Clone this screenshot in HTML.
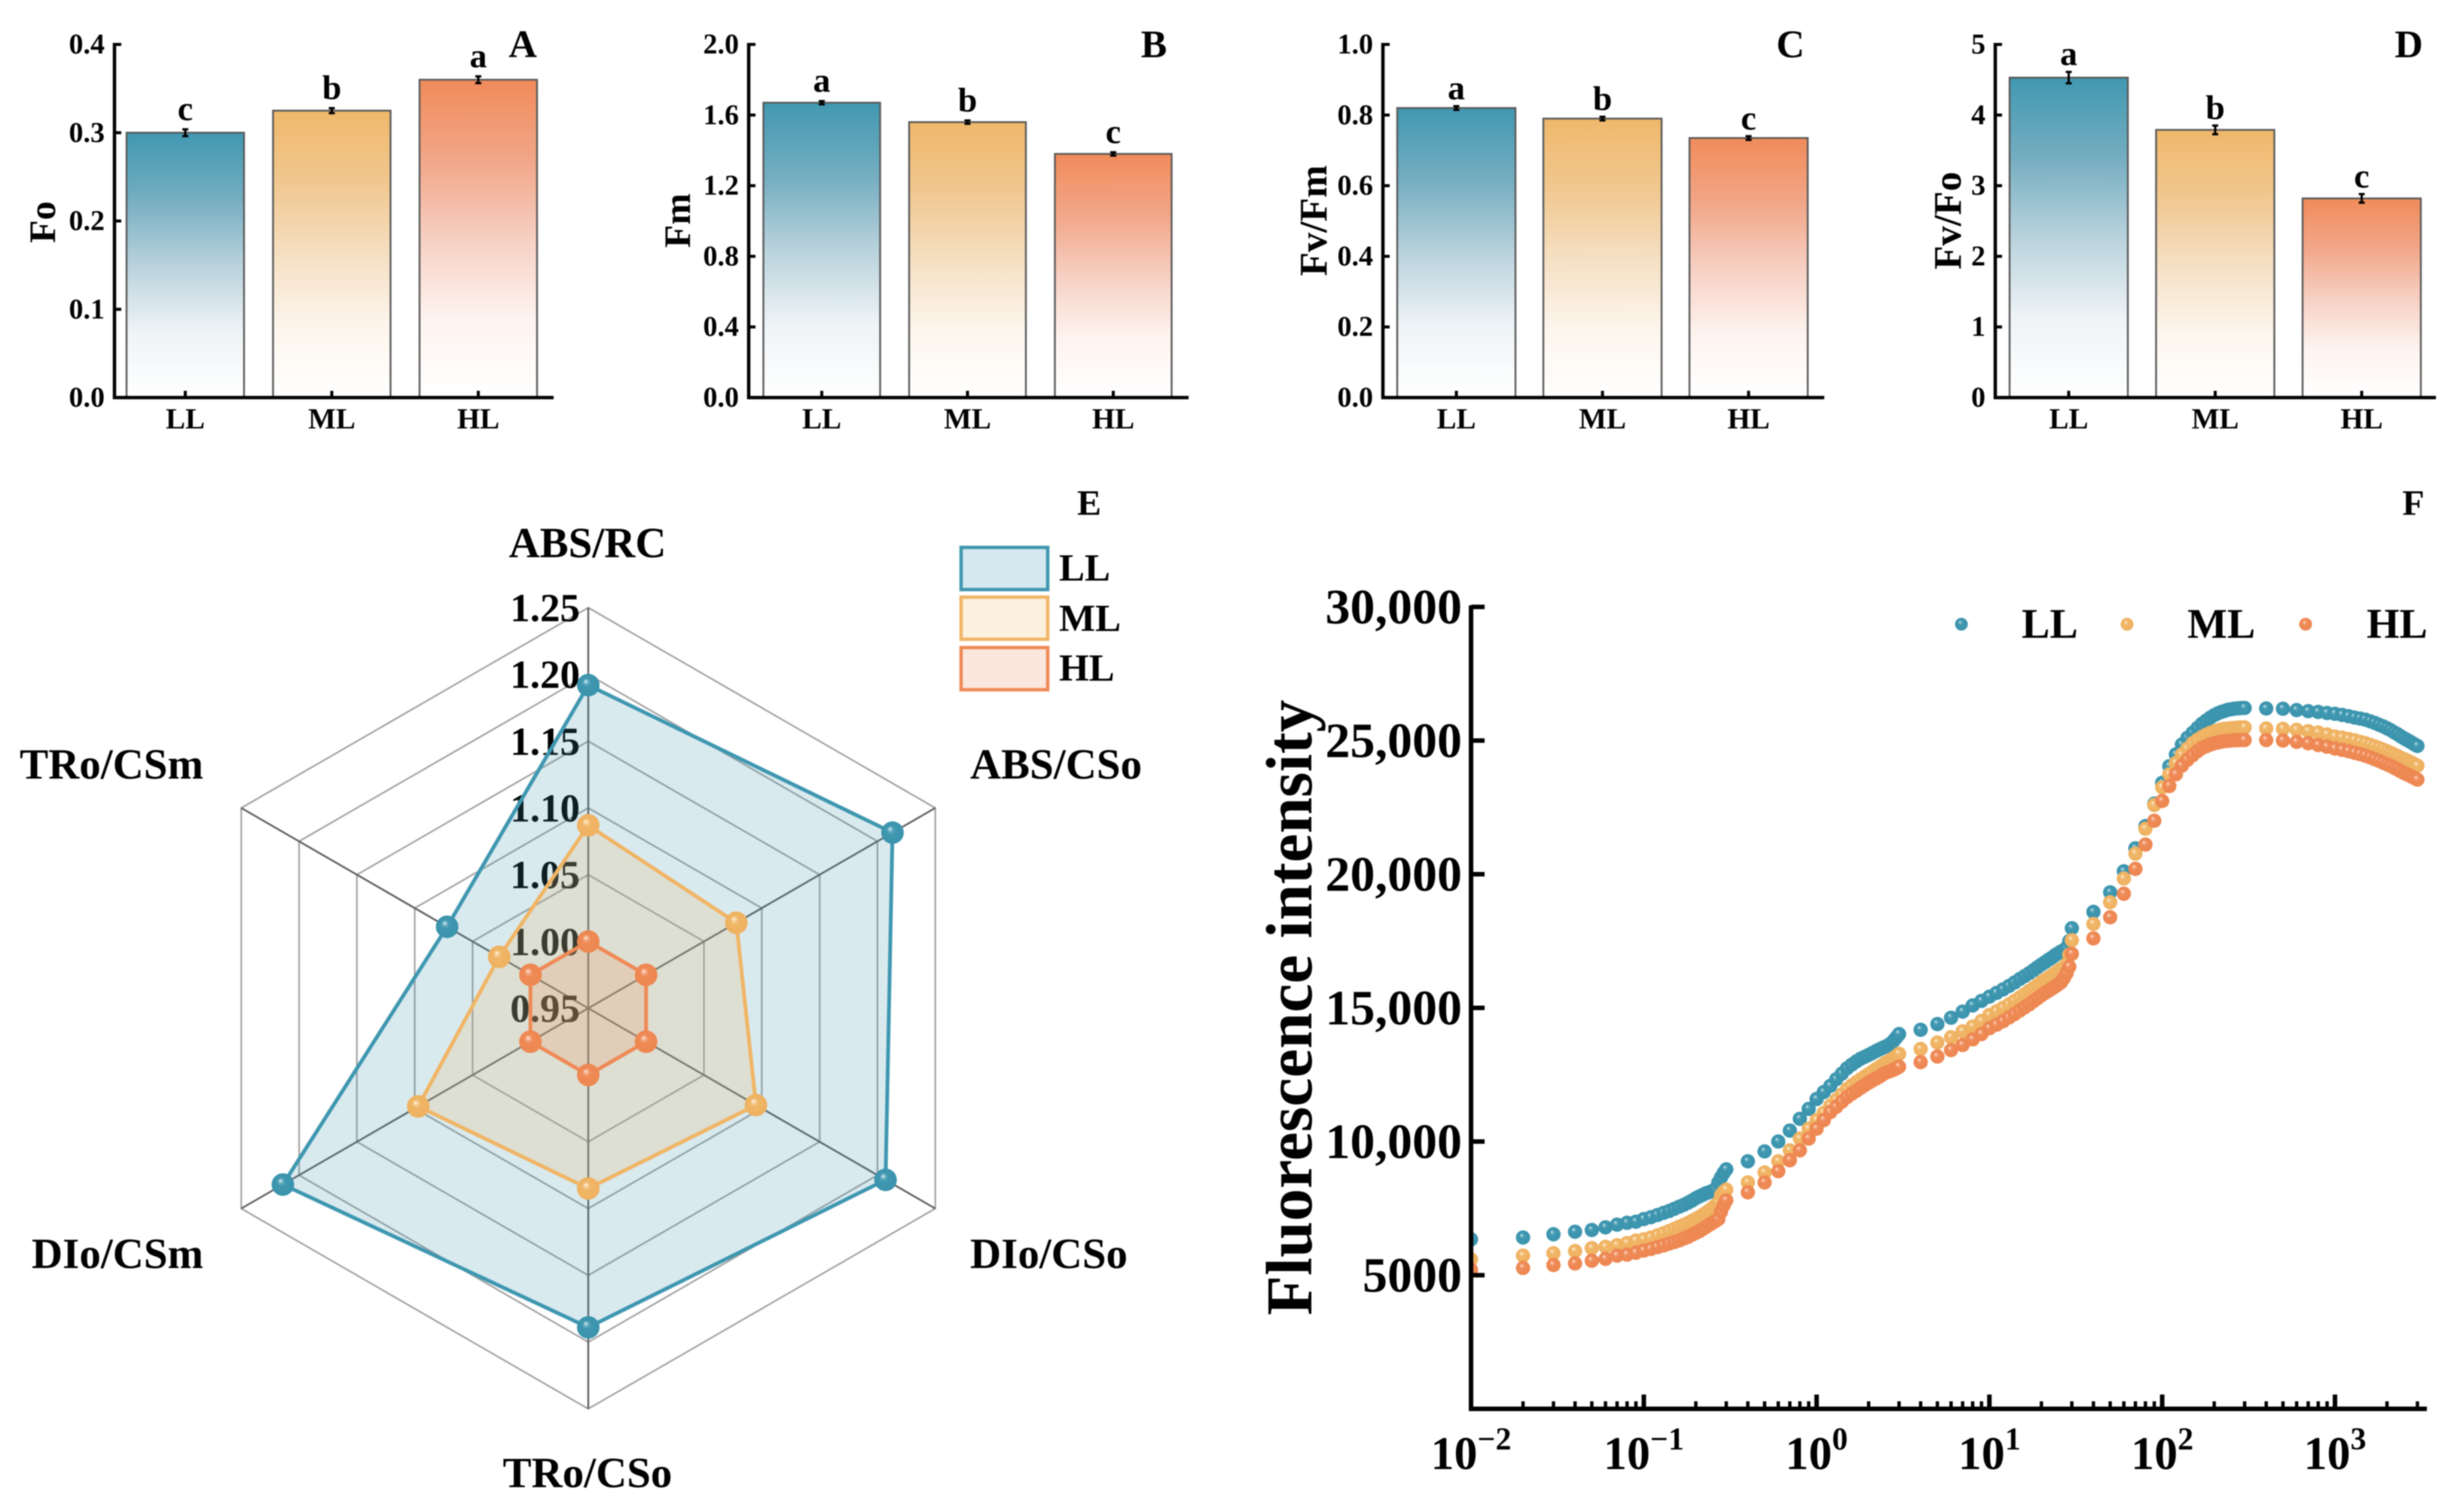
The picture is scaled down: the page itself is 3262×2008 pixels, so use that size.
<!DOCTYPE html>
<html lang="en">
<head>
<meta charset="utf-8">
<title>Chlorophyll fluorescence parameters under LL, ML and HL</title>
<style>
html,body{margin:0;padding:0;background:#fff;width:3262px;height:2008px;overflow:hidden}
svg{display:block;filter:blur(0.8px)}
text{font-family:"Liberation Serif",serif;font-weight:bold;fill:#000}
</style>
</head>
<body>
<svg id="figure" xmlns="http://www.w3.org/2000/svg" width="3262" height="2008" viewBox="0 0 3262 2008">
<rect width="3262" height="2008" fill="#fff"/>
<defs>
<linearGradient id="bar-LL" x1="0" y1="0" x2="0" y2="1"><stop offset="0" stop-color="#4198b1"/><stop offset=".25" stop-color="#74adc0"/><stop offset=".5" stop-color="#b9d2dc"/><stop offset=".75" stop-color="#eef3f6"/><stop offset="1" stop-color="#ffffff"/></linearGradient>
<linearGradient id="bar-ML" x1="0" y1="0" x2="0" y2="1"><stop offset="0" stop-color="#efb86b"/><stop offset=".25" stop-color="#f0c78f"/><stop offset=".5" stop-color="#f5dfc2"/><stop offset=".75" stop-color="#fcf5ec"/><stop offset="1" stop-color="#ffffff"/></linearGradient>
<linearGradient id="bar-HL" x1="0" y1="0" x2="0" y2="1"><stop offset="0" stop-color="#f08b5a"/><stop offset=".25" stop-color="#f1a688"/><stop offset=".5" stop-color="#f6cfc2"/><stop offset=".75" stop-color="#fdf3ef"/><stop offset="1" stop-color="#ffffff"/></linearGradient>
<radialGradient id="ball-LL" cx=".5" cy=".5" r=".5" fx=".38" fy=".32"><stop offset="0" stop-color="#e4f1f4"/><stop offset=".22" stop-color="#5ea9bf"/><stop offset=".4" stop-color="#3f97b0"/><stop offset="1" stop-color="#3a93ac"/></radialGradient>
<radialGradient id="ball-ML" cx=".5" cy=".5" r=".5" fx=".38" fy=".32"><stop offset="0" stop-color="#fdf3e4"/><stop offset=".22" stop-color="#f4c888"/><stop offset=".4" stop-color="#f0b566"/><stop offset="1" stop-color="#eeb160"/></radialGradient>
<radialGradient id="ball-HL" cx=".5" cy=".5" r=".5" fx=".38" fy=".32"><stop offset="0" stop-color="#fdeadf"/><stop offset=".22" stop-color="#f3a27a"/><stop offset=".4" stop-color="#ef8a56"/><stop offset="1" stop-color="#ed8650"/></radialGradient>
<clipPath id="kinetics-clip"><rect x="1953" y="780" width="1300" height="1092"/></clipPath>
</defs>

<g id="panel-a">
<text x="694" y="76" font-size="52" text-anchor="middle">A</text>
<text transform="translate(73 295) rotate(-90)" font-size="50" text-anchor="middle">Fo</text>
</g>
<g id="panel-b">
<text x="1532" y="76" font-size="52" text-anchor="middle">B</text>
<text transform="translate(916 293) rotate(-90)" font-size="50" text-anchor="middle">Fm</text>
</g>
<g id="panel-c">
<text x="2377" y="76" font-size="52" text-anchor="middle">C</text>
<text transform="translate(1761 293) rotate(-90)" font-size="52" text-anchor="middle">Fv/Fm</text>
</g>
<g id="panel-d">
<text x="3198" y="76" font-size="52" text-anchor="middle">D</text>
<text transform="translate(2603 293) rotate(-90)" font-size="52" text-anchor="middle">Fv/Fo</text>
</g>

<g id="panel-e">
<g id="radar-grid"></g>
<g id="radar-series"></g>
<text x="1446" y="684" font-size="48" text-anchor="middle">E</text>
<g>
<rect x="1276" y="727" width="115" height="56" fill="#d6e8ef" stroke="#3f97b0" stroke-width="4.5"/>
<text x="1406" y="771" font-size="51">LL</text>
<rect x="1276" y="793" width="115" height="56" fill="#fcf0de" stroke="#f0b566" stroke-width="4.5"/>
<text x="1406" y="838" font-size="51">ML</text>
<rect x="1276" y="860" width="115" height="56" fill="#fbe7de" stroke="#ef8a56" stroke-width="4.5"/>
<text x="1406" y="904" font-size="51">HL</text>
</g>
</g>

<g id="panel-f">
<text x="3204" y="684" font-size="48" text-anchor="middle">F</text>
<text transform="translate(1741 1338) rotate(-90)" font-size="86.5" text-anchor="middle">Fluorescence intensity</text>
<g id="kinetics-series" clip-path="url(#kinetics-clip)"></g>
<g id="kinetics-axes"></g>
<g>
<circle cx="2604" cy="829" r="8.5" fill="url(#ball-LL)"/>
<text x="2684" y="847" font-size="56">LL</text>
<circle cx="2824" cy="829" r="8.5" fill="url(#ball-ML)"/>
<text x="2904" y="847" font-size="56">ML</text>
<circle cx="3061" cy="829" r="8.5" fill="url(#ball-HL)"/>
<text x="3142" y="847" font-size="56">HL</text>
</g>
</g>
</svg>

<script>
// ---------- Panels A-D data ----------
const barCategories = ['LL', 'ML', 'HL'];
const foValues = [0.300, 0.325, 0.360];
const foErrors = [0.003, 0.002, 0.003];
const foLetters = ['c', 'b', 'a'];
const foTicks = ['0.0', '0.1', '0.2', '0.3', '0.4'];
const fmValues = [1.67, 1.56, 1.38];
const fmErrors = [0.005, 0.005, 0.005];
const fmLetters = ['a', 'b', 'c'];
const fmTicks = ['0.0', '0.4', '0.8', '1.2', '1.6', '2.0'];
const fvfmValues = [0.82, 0.79, 0.735];
const fvfmErrors = [0.003, 0.003, 0.003];
const fvfmLetters = ['a', 'b', 'c'];
const fvfmTicks = ['0.0', '0.2', '0.4', '0.6', '0.8', '1.0'];
const fvfoValues = [4.53, 3.79, 2.82];
const fvfoErrors = [0.07, 0.05, 0.05];
const fvfoLetters = ['a', 'b', 'c'];
const fvfoTicks = ['0', '1', '2', '3', '4', '5'];

// ---------- Panel E data ----------
const radarAxes = ['ABS/RC', 'ABS/CSo', 'DIo/CSo', 'TRo/CSo', 'DIo/CSm', 'TRo/CSm'];
const radarTicks = ['0.95', '1.00', '1.05', '1.10', '1.15', '1.20', '1.25'];
const radarLL = [1.192, 1.213, 1.207, 1.189, 1.214, 1.072];
const radarML = [1.087, 1.078, 1.095, 1.085, 1.097, 1.027];
const radarHL = [1.000, 1.000, 1.000, 1.000, 1.000, 1.000];

// ---------- Panel F data ----------
const kineticsTime = [
0.01,0.02,0.03,0.04,0.05,0.06,0.07,0.08,0.09,0.10,0.11,0.12,0.13,0.14,0.15,0.16,0.17,0.18,0.19,0.20,0.21,0.22,0.23,0.24,0.25,0.26,0.27,0.28,0.29,0.30,
0.4,0.5,0.6,0.7,0.8,0.9,1.0,1.1,1.2,1.3,1.4,1.5,1.6,1.7,1.8,1.9,2.0,2.1,2.2,2.3,2.4,2.5,2.6,2.7,2.8,2.9,3.0,
4,5,6,7,8,9,10,11,12,13,14,15,16,17,18,19,20,21,22,23,24,25,26,27,28,29,30,
40,50,60,70,80,90,100,110,120,130,140,150,160,170,180,190,200,210,220,230,240,250,260,270,280,290,300,
400,500,600,700,800,900,1000,1100,1200,1300,1400,1500,1600,1700,1800,1900,2000,2100,2200,2300,2400,2500,2600,2700,2800,2900,3000];
const kineticsLL = [
6340,6410,6530,6625,6690,6790,6890,6960,7000,7100,7170,7250,7330,7400,7480,7560,7630,7710,7790,7880,7950,8010,8070,8110,8150,8230,8470,8660,8830,8960,
9260,9630,10000,10410,10850,11220,11590,11850,12080,12330,12540,12740,12880,13000,13100,13170,13240,13310,13380,13440,13500,13550,13600,13680,13780,13900,14020,
14180,14395,14630,14860,15090,15260,15420,15560,15690,15820,15950,16080,16190,16300,16410,16520,16620,16710,16800,16880,16970,17040,17110,17160,17250,17500,17980,
18590,19320,20110,20970,21800,22640,23420,24040,24480,24850,25100,25290,25470,25630,25750,25860,25950,26020,26070,26110,26150,26170,26190,26200,26210,26220,26220,
26200,26190,26140,26100,26070,26030,26000,25960,25910,25860,25820,25780,25720,25660,25590,25530,25460,25390,25310,25240,25160,25090,25030,24970,24910,24850,24800];
const kineticsML = [
5590,5730,5820,5900,6010,6060,6120,6200,6295,6340,6410,6490,6570,6650,6730,6810,6880,6950,7030,7100,7180,7260,7340,7430,7520,7610,7720,8000,8120,8200,
8470,8840,9260,9670,10110,10480,10800,11070,11340,11560,11760,11960,12100,12220,12330,12430,12520,12610,12700,12780,12860,12940,13000,13060,13120,13200,13280,
13460,13700,13900,14120,14300,14510,14730,14870,15000,15130,15260,15390,15510,15630,15740,15850,15960,16050,16130,16210,16300,16380,16450,16520,16640,16990,17530,
18140,18950,19840,20770,21700,22590,23250,23740,24160,24480,24700,24900,25030,25140,25220,25290,25340,25380,25420,25440,25450,25460,25470,25480,25490,25490,25490,
25450,25440,25400,25350,25300,25230,25150,25110,25060,25010,24950,24900,24840,24780,24720,24660,24600,24540,24480,24420,24360,24310,24260,24210,24160,24110,24060];
const kineticsHL = [
5200,5270,5380,5440,5540,5610,5730,5770,5840,5920,5980,6050,6110,6180,6240,6300,6370,6430,6510,6580,6650,6730,6810,6890,6960,7030,7100,7380,7620,7800,
8100,8470,8890,9300,9670,10110,10480,10800,11100,11300,11490,11660,11790,11900,12010,12110,12200,12280,12350,12420,12500,12570,12610,12650,12690,12740,12800,
12970,13180,13420,13610,13820,14020,14240,14370,14500,14640,14770,14900,15020,15130,15250,15360,15470,15560,15640,15720,15800,15880,15960,16120,16300,16540,17020,
17600,18390,19270,20200,21110,22000,22740,23300,23740,24060,24280,24450,24600,24720,24790,24850,24900,24930,24960,24980,24990,25000,25010,25010,25020,25020,25020,
25020,25000,24950,24900,24830,24770,24700,24650,24600,24540,24490,24430,24370,24300,24240,24170,24110,24050,23980,23920,23850,23790,23740,23690,23640,23590,23540];
const intensityTicks = [5000, 10000, 15000, 20000, 25000, 30000];
const intensityLabels = ['5000', '10,000', '15,000', '20,000', '25,000', '30,000'];
const timeDecades = [-2, -1, 0, 1, 2, 3];
const timeMinorMultipliers = [2, 3, 4, 5, 6, 7, 8, 9];

// ---------- helpers ----------
const SVG_NS = 'http://www.w3.org/2000/svg';
function make(tag, attrs, parent) {
  const node = document.createElementNS(SVG_NS, tag);
  Object.keys(attrs).forEach(function (k) { node.setAttribute(k, attrs[k]); });
  parent.appendChild(node);
  return node;
}

// ---------- bar panels ----------
function drawBarPanel(host, key, cfg, values, errors, letters, ticks) {
  const yMax = parseFloat(ticks[ticks.length - 1]);
  const yTop = 59, yZero = 528;
  const yScale = function (v) { return yZero - (v / yMax) * (yZero - yTop); };
  const xScale = function (i) { return cfg.left + i * cfg.pitch; };

  values.forEach(function (v, i) {
    const cat = barCategories[i];
    const lc = cat.toLowerCase();
    const top = yScale(v);
    const bar = make('rect', { x: xScale(i), y: top, width: cfg.width, height: yZero - top, fill: 'url(#bar-' + cat + ')', stroke: '#5a5a5a', 'stroke-width': 2.4 }, host);
    
    
    const cx = xScale(i) + cfg.width / 2;
    const eHi = yScale(v + errors[i]);
    const eLo = yScale(v - errors[i]);
    const err = make('path', { d: 'M' + cx + ' ' + (eHi - 1) + 'V' + (eLo + 1) + 'M' + (cx - 4) + ' ' + (eHi - 1) + 'H' + (cx + 4) + 'M' + (cx - 4) + ' ' + (eLo + 1) + 'H' + (cx + 4), stroke: '#000', 'stroke-width': 3, fill: 'none' }, host);
    
    
    const sig = make('text', { x: cx, y: eHi - cfg.letterGap, 'font-size': 46, 'text-anchor': 'middle' }, host);
    sig.textContent = letters[i];
    
    
    const tick = make('line', { x1: cx, x2: cx, y1: yZero, y2: yZero - 9, stroke: '#000', 'stroke-width': 4 }, host);
    
    
    const lab = make('text', { x: cx, y: 569, 'font-size': 39, 'text-anchor': 'middle' }, host);
    lab.textContent = cat;
    
    
  });

  ticks.forEach(function (t) {
    const y = yScale(parseFloat(t));
    const tick = make('line', { x1: cfg.axis, x2: cfg.axis + 9, y1: y, y2: y, stroke: '#000', 'stroke-width': 4 }, host);
    
    
    const lab = make('text', { x: cfg.axis - 13, y: y + 12, 'font-size': 38, 'text-anchor': 'end' }, host);
    lab.textContent = t;
    
    
  });

  const yAxis = make('line', { x1: cfg.axis, x2: cfg.axis, y1: yTop - 2, y2: yZero + 2, stroke: '#000', 'stroke-width': 4.5 }, host);
  
  
  const xAxis = make('line', { x1: cfg.axis - 2, x2: cfg.end, y1: yZero, y2: yZero, stroke: '#000', 'stroke-width': 4.5 }, host);
  
  
}

drawBarPanel(document.getElementById('panel-a'), 'fo', { axis: 152, end: 735, left: 168, pitch: 194.5, width: 156, letterGap: 13 }, foValues, foErrors, foLetters, foTicks);
drawBarPanel(document.getElementById('panel-b'), 'fm', { axis: 994, end: 1578, left: 1013.5, pitch: 193.5, width: 155, letterGap: 13 }, fmValues, fmErrors, fmLetters, fmTicks);
drawBarPanel(document.getElementById('panel-c'), 'fv-fm', { axis: 1836, end: 2422, left: 1855, pitch: 194, width: 157, letterGap: 10 }, fvfmValues, fvfmErrors, fvfmLetters, fvfmTicks);
drawBarPanel(document.getElementById('panel-d'), 'fv-fo', { axis: 2649, end: 3234, left: 2668, pitch: 194.5, width: 157, letterGap: 10 }, fvfoValues, fvfoErrors, fvfoLetters, fvfoTicks);

// ---------- radar ----------
(function () {
  const grid = document.getElementById('radar-grid');
  const layer = document.getElementById('radar-series');
  const cx = 781, cy = 1339, R = 532;
  const vMin = parseFloat(radarTicks[0]);
  const vMax = parseFloat(radarTicks[radarTicks.length - 1]);
  const rScale = function (v) { return (v - vMin) / (vMax - vMin) * R; };
  const angle = function (i) { return i * Math.PI / 3; };
  const px = function (i, v) { return cx + rScale(v) * Math.sin(angle(i)); };
  const py = function (i, v) { return cy - rScale(v) * Math.cos(angle(i)); };

  radarTicks.slice(1).forEach(function (t) {
    const v = parseFloat(t);
    const pts = radarAxes.map(function (a, i) { return px(i, v).toFixed(1) + ',' + py(i, v).toFixed(1); }).join(' ');
    const ring = make('polygon', { points: pts, fill: 'none', stroke: '#a3a3a3', 'stroke-width': 2.2 }, grid);
    
    
  });
  radarAxes.forEach(function (a, i) {
    const spoke = make('line', { x1: cx, y1: cy, x2: px(i, vMax), y2: py(i, vMax), stroke: '#5f5f5f', 'stroke-width': 2.4 }, grid);
    
    
  });
  radarTicks.forEach(function (t) {
    const y = py(0, parseFloat(t));
    const lab = make('text', { x: 770, y: y + 18, 'font-size': 53, 'text-anchor': 'end', fill: '#000' }, grid);
    lab.textContent = t;
    
    
  });

  const labelPlacement = [
    { x: 780, y: 740, anchor: 'middle' },
    { x: 1288, y: 1034, anchor: 'start' },
    { x: 1288, y: 1684, anchor: 'start' },
    { x: 780, y: 1975, anchor: 'middle' },
    { x: 270, y: 1684, anchor: 'end' },
    { x: 270, y: 1034, anchor: 'end' }
  ];
  radarAxes.forEach(function (a, i) {
    const lab = make('text', { x: labelPlacement[i].x, y: labelPlacement[i].y, 'font-size': 57, 'text-anchor': labelPlacement[i].anchor }, grid);
    lab.textContent = a;
    
    
  });

  function drawSeries(name, values, color) {
    const pts = values.map(function (v, i) { return px(i, v).toFixed(1) + ',' + py(i, v).toFixed(1); }).join(' ');
    const poly = make('polygon', { points: pts, fill: color, 'fill-opacity': 0.2, stroke: color, 'stroke-width': 5, 'stroke-linejoin': 'round' }, layer);
    
    
    values.forEach(function (v, i) {
      const dot = make('circle', { cx: px(i, v), cy: py(i, v), r: 15, fill: 'url(#ball-' + name + ')' }, layer);
      
      
    });
  }
  drawSeries('LL', radarLL, '#3f97b0');
  drawSeries('ML', radarML, '#f0b566');
  drawSeries('HL', radarHL, '#ef8a56');
})();

// ---------- kinetics ----------
(function () {
  const series = document.getElementById('kinetics-series');
  const axes = document.getElementById('kinetics-axes');
  const x0 = 1953, decade = 229.4, xEnd = 3222;
  const yBase = 1871, perUnit = (1871 - 806) / 30000;
  const xScale = function (t) { return x0 + (Math.log10(t) - timeDecades[0]) * decade; };
  const yScale = function (v) { return yBase - v * perUnit; };

  function drawDots(name, values) {
    values.forEach(function (v, i) {
      const dot = make('circle', { cx: xScale(kineticsTime[i]), cy: yScale(v), r: 9.5, fill: 'url(#ball-' + name + ')' }, series);
      
      
    });
  }
  drawDots('LL', kineticsLL);
  drawDots('ML', kineticsML);
  drawDots('HL', kineticsHL);

  const yAxis = make('line', { x1: x0, x2: x0, y1: 804, y2: yBase + 3, stroke: '#000', 'stroke-width': 6 }, axes);
  
  
  const xAxis = make('line', { x1: x0 - 3, x2: xEnd, y1: yBase, y2: yBase, stroke: '#000', 'stroke-width': 6 }, axes);
  
  

  intensityTicks.forEach(function (v, i) {
    const y = yScale(v);
    const tick = make('line', { x1: x0, x2: x0 + 18, y1: y, y2: y, stroke: '#000', 'stroke-width': 6 }, axes);
    
    
    const lab = make('text', { x: 1941, y: y + 22, 'font-size': 66, 'text-anchor': 'end' }, axes);
    lab.textContent = intensityLabels[i];
    
    
  });

  timeDecades.forEach(function (d) {
    const x = x0 + (d - timeDecades[0]) * decade;
    const tick = make('line', { x1: x, x2: x, y1: yBase, y2: yBase - 19, stroke: '#000', 'stroke-width': 6 }, axes);
    
    
    const lab = make('text', { x: x, y: 1951, 'font-size': 62, 'text-anchor': 'middle' }, axes);
    
    
    const base = make('tspan', {}, lab);
    base.textContent = '10';
    const sup = make('tspan', { 'font-size': 42, dy: -26 }, lab);
    sup.textContent = String(d).replace('-', '\u2212');
    timeMinorMultipliers.forEach(function (m) {
      const mx = x + Math.log10(m) * decade;
      if (mx > xEnd) { return; }
      const minor = make('line', { x1: mx, x2: mx, y1: yBase, y2: yBase - 10, stroke: '#000', 'stroke-width': 4.5 }, axes);
      
      
    });
  });
})();
</script>
</body>
</html>
